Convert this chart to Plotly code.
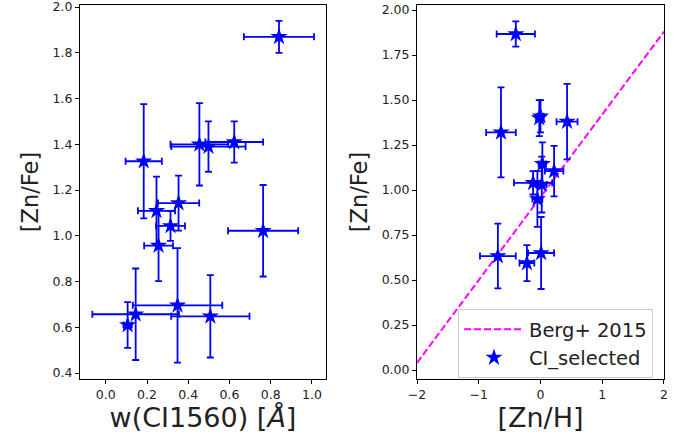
import plotly.graph_objects as go
from plotly.subplots import make_subplots

# left panel: w(CI1560) vs [Zn/Fe]
left_w = [0.84, 0.184, 0.454, 0.498, 0.623, 0.246, 0.353, 0.314, 0.256, 0.763, 0.348, 0.145, 0.507, 0.106]
left_w_err = [0.17, 0.088, 0.14, 0.18, 0.14, 0.09, 0.10, 0.07, 0.07, 0.17, 0.217, 0.21, 0.19, 0.02]
left_znfe = [1.87, 1.326, 1.40, 1.39, 1.41, 1.109, 1.143, 1.043, 0.957, 1.022, 0.696, 0.657, 0.648, 0.61]
left_znfe_err = [0.07, 0.25, 0.18, 0.11, 0.09, 0.15, 0.12, 0.065, 0.155, 0.2, 0.25, 0.2, 0.18, 0.1]

# right panel: [Zn/H] vs [Zn/Fe]
right_znh = [-0.40, -0.64, 0.00, -0.02, 0.43, 0.03, 0.22, -0.12, 0.02, -0.05, -0.69, -0.22, 0.01]
right_znh_err = [0.31, 0.24, 0.05, 0.05, 0.17, 0.06, 0.15, 0.31, 0.08, 0.08, 0.29, 0.12, 0.21]
right_znfe = [1.867, 1.32, 1.41, 1.40, 1.38, 1.145, 1.105, 1.04, 1.03, 0.95, 0.633, 0.594, 0.65]
right_znfe_err = [0.07, 0.25, 0.09, 0.10, 0.21, 0.12, 0.14, 0.065, 0.155, 0.155, 0.18, 0.1, 0.2]

# Berg+ 2015 relation, end points
berg_x = [-2, 2]
berg_y = [0.04, 1.88]

FONT = "DejaVu Sans"
err_style = dict(type="data", color="blue", thickness=1.8, width=3.5)
marker_style = dict(symbol="star", size=13, color="blue")

fig = make_subplots(rows=1, cols=2)

fig.add_trace(go.Scatter(x=left_w, y=left_znfe, mode="markers", marker=marker_style,
                         error_x=dict(array=left_w_err, **err_style),
                         error_y=dict(array=left_znfe_err, **err_style),
                         showlegend=False), row=1, col=1)

fig.add_trace(go.Scatter(x=berg_x, y=berg_y, mode="lines", name="Berg+ 2015",
                         line=dict(color="magenta", width=2, dash="7px,3px")), row=1, col=2)
fig.add_trace(go.Scatter(x=right_znh, y=right_znfe, mode="markers", name="CI_selected",
                         marker=marker_style,
                         error_x=dict(array=right_znh_err, **err_style),
                         error_y=dict(array=right_znfe_err, **err_style)), row=1, col=2)

axis_common = dict(showline=True, mirror=True, linecolor="black", linewidth=1,
                   ticks="outside", ticklen=4, tickwidth=1, tickcolor="black",
                   showgrid=False, zeroline=False, automargin=False,
                   ticklabeloverflow="allow",
                   tickfont=dict(family=FONT, size=12.5, color="#222"))

fig.update_xaxes(axis_common)
fig.update_yaxes(axis_common)

fig.update_xaxes(domain=[80/683, 326/683], range=[-0.125, 1.068], dtick=0.2, tick0=0,
                 tickformat=".1f",
                 title=dict(text="w(CI1560) [<i>Å</i>]", font=dict(family=FONT, size=27, color="#222"),
                            standoff=6),
                 row=1, col=1)
fig.update_yaxes(domain=[1-379/445, 1-5/445], range=[0.374, 2.009], dtick=0.2, tick0=0,
                 tickformat=".1f",
                 title=dict(text="[Zn/Fe]", font=dict(family=FONT, size=22.5, color="#222"),
                            standoff=7),
                 row=1, col=1)
fig.update_xaxes(domain=[417/683, 664/683], range=[-2.0001, 2.0001], dtick=1, tick0=0,
                 title=dict(text="[Zn/H]", font=dict(family=FONT, size=27, color="#222"),
                            standoff=6),
                 row=1, col=2)
fig.update_yaxes(domain=[1-379/445, 1-5/445], range=[-0.05, 2.028], dtick=0.25, tick0=0,
                 tickformat=".2f",
                 title=dict(text="[Zn/Fe]", font=dict(family=FONT, size=22.5, color="#222"),
                            standoff=7),
                 row=1, col=2)

fig.update_layout(
    width=683, height=445,
    margin=dict(l=0, r=0, t=0, b=0),
    paper_bgcolor="white", plot_bgcolor="white",
    font=dict(family=FONT, color="#222"),
    legend=dict(x=653/683, y=1-378/445, xanchor="right", yanchor="bottom",
                bgcolor="rgba(255,255,255,0.8)", bordercolor="#cccccc", borderwidth=1,
                itemwidth=60, tracegroupgap=0,
                font=dict(family=FONT, size=19.5, color="#222")),
)

# page body has a default 8px margin; remove it so the figure sits at the window origin
fig.write_html("out.html", config={"displayModeBar": False},
               post_script="document.body.style.margin='0px';")
